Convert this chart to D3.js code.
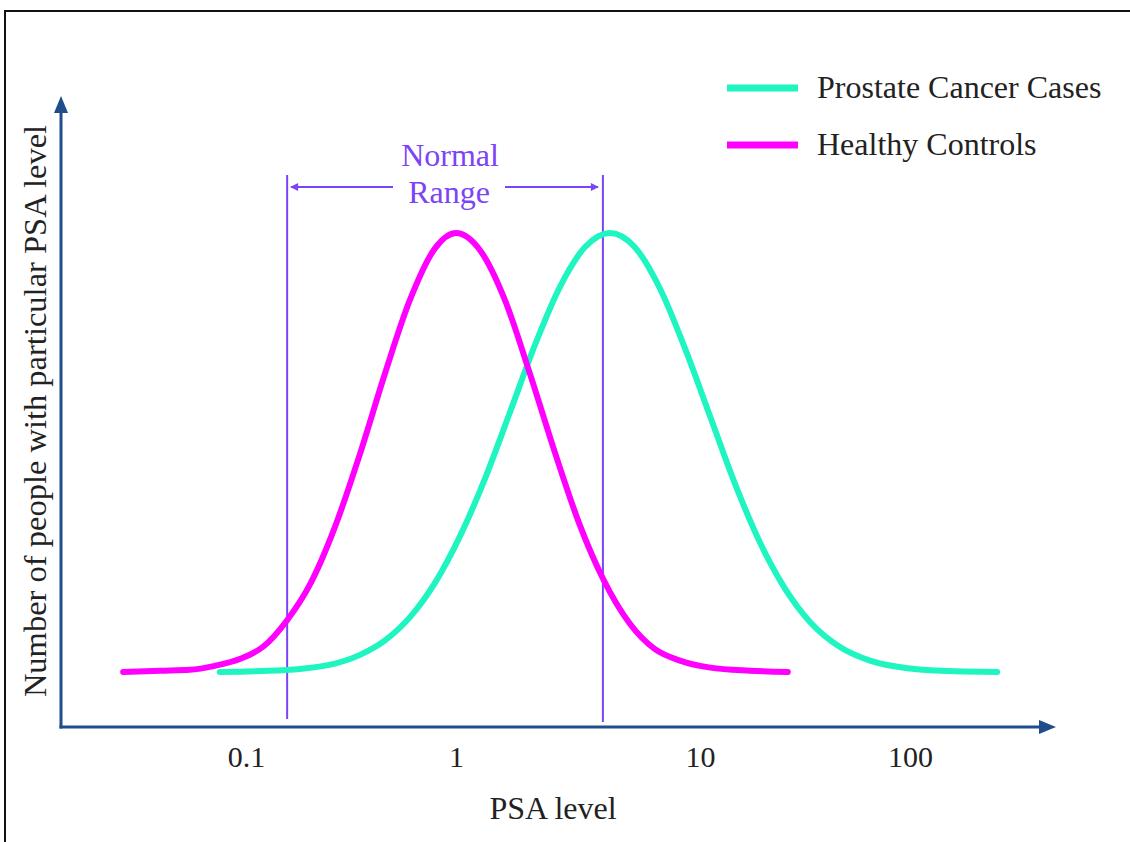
<!DOCTYPE html>
<html>
<head>
<meta charset="utf-8">
<script src="https://cdn.jsdelivr.net/npm/d3@7"></script>
<style>
  body { margin: 0; background: #fff; }
  text { font-family: "Liberation Serif", "Times New Roman", serif; }
</style>
</head>
<body>
<div id="chart"></div>
<script>
// ── Data ─────────────────────────────────────────────────────────
const tickValues = [0.1, 1, 10, 100];
const tickLabels = ["0.1", "1", "10", "100"];

// Healthy controls: PSA level vs relative number of people (peak = 100)
const healthyPSA   = [0.026, 0.039, 0.054, 0.071, 0.094, 0.121, 0.157, 0.202, 0.265, 0.349,
                      0.459, 0.604, 0.794, 1.0, 1.25, 1.59, 2.01, 2.55, 3.22, 4.0,
                      5.16, 6.54, 8.28, 11.2, 17.3, 26.2];
const healthyCount = [0, 0.3, 0.5, 1.4, 3.0, 5.8, 11.8, 20, 33, 49.7,
                      68, 84.8, 96.5, 100, 96.2, 84.6, 67.9, 49.8, 33.4, 21.3,
                      11, 5.2, 2.6, 1.0, 0.3, 0];

// Prostate cancer cases
const cancerPSA   = [0.075, 0.117, 0.181, 0.265, 0.349, 0.459, 0.604, 0.794, 1.04, 1.32,
                     1.67, 2.11, 2.67, 3.38, 4.28, 5.42, 6.86, 8.68, 11.2, 14.7,
                     19.3, 25.4, 33.4, 46.4, 64.5, 100, 155, 260];
const cancerCount = [0, 0.2, 0.7, 1.9, 3.9, 7.2, 12.5, 20.3, 31, 44.3,
                     59.4, 74.6, 87.8, 96.8, 100, 96.7, 87.3, 73.7, 58.1, 42.8,
                     29.5, 19, 11.4, 5.7, 2.6, 0.8, 0.2, 0];

const normalRange = [0.157, 4.0];

const seriesNames = ["Prostate Cancer Cases", "Healthy Controls"];

const colors = {
  cancer:  "#1ef5c1",
  healthy: "#ff00ff",
  range:   "#7b44f7",
  axis:    "#1f4e8a",
  text:    "#222222",
};

const W = 1130, H = 842;
const origin = { x: 61, y: 727 };

const svg = d3.select("#chart").append("svg")
  .attr("width", W).attr("height", H);

// outer frame
svg.append("rect")
  .attr("x", 5).attr("y", 11)
  .attr("width", W).attr("height", H)
  .attr("fill", "none").attr("stroke", "#111").attr("stroke-width", 2);

// ── Scales ───────────────────────────────────────────────────────
// tick labels in the original are not evenly spaced, so use a piecewise log scale
const x = d3.scaleLog()
  .domain(tickValues)
  .range([246, 456, 700, 910]);

const y = d3.scaleLinear()
  .domain([0, 100])
  .range([672, 233]);

// ── Axes (arrows) ────────────────────────────────────────────────
svg.append("line")
  .attr("x1", origin.x).attr("y1", origin.y + 1.5)
  .attr("x2", origin.x).attr("y2", 110)
  .attr("stroke", colors.axis).attr("stroke-width", 3);
svg.append("path")
  .attr("d", `M${origin.x},96 L${origin.x - 7},113 L${origin.x + 7},113 Z`)
  .attr("fill", colors.axis);

svg.append("line")
  .attr("x1", origin.x - 1.5).attr("y1", origin.y)
  .attr("x2", 1042).attr("y2", origin.y)
  .attr("stroke", colors.axis).attr("stroke-width", 3);
svg.append("path")
  .attr("d", `M1056,${origin.y} L1039,${origin.y - 7} L1039,${origin.y + 7} Z`)
  .attr("fill", colors.axis);

// tick labels
svg.append("g")
  .attr("transform", "translate(0,744)")
  .call(d3.axisBottom(x).tickValues(tickValues).tickFormat((d, i) => tickLabels[i]).tickSize(0).tickPadding(0))
  .call(g => g.select(".domain").remove())
  .call(g => g.selectAll("text")
    .attr("dy", null).attr("y", 23)
    .style("font-family", '"Liberation Serif", "Times New Roman", serif')
    .style("font-size", "30px")
    .style("fill", colors.text));

svg.append("text")
  .attr("x", 553).attr("y", 819)
  .attr("text-anchor", "middle")
  .style("font-size", "32px").style("fill", colors.text)
  .text("PSA level");

svg.append("text")
  .attr("transform", "translate(46,411) rotate(-90)")
  .attr("text-anchor", "middle")
  .style("font-size", "32.5px").style("fill", colors.text)
  .text("Number of people with particular PSA level");

// ── Normal range markers ────────────────────────────────────────
svg.selectAll(".range-line")
  .data(normalRange).enter().append("line")
  .attr("class", "range-line")
  .attr("x1", d => x(d)).attr("x2", d => x(d))
  .attr("y1", 175).attr("y2", (d, i) => i === 0 ? 719 : 722)
  .attr("stroke", colors.range).attr("stroke-width", 2);

const arrowY = 187;
const xl = x(normalRange[0]), xr = x(normalRange[1]);
svg.append("line")
  .attr("x1", xl + 4).attr("x2", 393).attr("y1", arrowY).attr("y2", arrowY)
  .attr("stroke", colors.range).attr("stroke-width", 2);
svg.append("path")
  .attr("d", `M${xl + 3},${arrowY} L${xl + 11},${arrowY - 4} L${xl + 11},${arrowY + 4} Z`)
  .attr("fill", colors.range);
svg.append("line")
  .attr("x1", 505).attr("x2", xr - 5).attr("y1", arrowY).attr("y2", arrowY)
  .attr("stroke", colors.range).attr("stroke-width", 2);
svg.append("path")
  .attr("d", `M${xr - 4},${arrowY} L${xr - 12},${arrowY - 4} L${xr - 12},${arrowY + 4} Z`)
  .attr("fill", colors.range);

svg.append("text")
  .attr("x", 450).attr("y", 166)
  .attr("text-anchor", "middle")
  .style("font-size", "32px").style("fill", colors.range)
  .text("Normal");
svg.append("text")
  .attr("x", 449).attr("y", 203)
  .attr("text-anchor", "middle")
  .style("font-size", "32px").style("fill", colors.range)
  .text("Range");

// ── Curves ───────────────────────────────────────────────────────
const line = d3.line()
  .x(d => x(d[0]))
  .y(d => y(d[1]))
  .curve(d3.curveMonotoneX);

svg.append("path")
  .datum(cancerPSA.map((v, i) => [v, cancerCount[i]]))
  .attr("fill", "none")
  .attr("stroke", colors.cancer)
  .attr("stroke-width", 6)
  .attr("stroke-linecap", "round")
  .attr("d", line);

svg.append("path")
  .datum(healthyPSA.map((v, i) => [v, healthyCount[i]]))
  .attr("fill", "none")
  .attr("stroke", colors.healthy)
  .attr("stroke-width", 6)
  .attr("stroke-linecap", "round")
  .attr("d", line);

// ── Legend ───────────────────────────────────────────────────────
const legend = svg.append("g").attr("transform", "translate(727,88)");
[colors.cancer, colors.healthy].forEach((c, i) => {
  const row = legend.append("g").attr("transform", `translate(0,${i * 57})`);
  row.append("line")
    .attr("x1", 0).attr("x2", 71).attr("y1", 0).attr("y2", 0)
    .attr("stroke", c).attr("stroke-width", 7);
  row.append("text")
    .attr("x", 90).attr("y", 10)
    .style("font-size", "32px").style("fill", colors.text)
    .text(seriesNames[i]);
});
</script>
</body>
</html>
